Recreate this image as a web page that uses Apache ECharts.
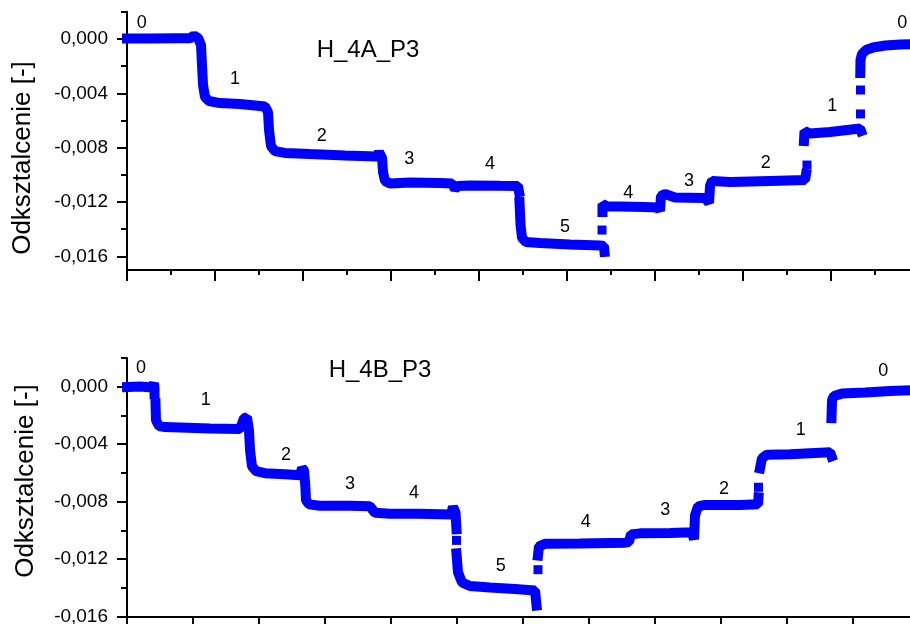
<!DOCTYPE html>
<html>
<head>
<meta charset="utf-8">
<script src="https://cdn.jsdelivr.net/npm/echarts@6/dist/echarts.min.js"></script>
<style>html,body{margin:0;padding:0;background:#fff}#c{width:910px;height:624px}</style>
</head>
<body>
<div id="c"></div>
<script>
// ---- data (x: time in arbitrary units = one major tick; y: strain) ----
const topCurve = [
  [0,0.00003],[0.261,0.00002],[0.545,0.00005],[0.716,0.00004],[0.761,0.00025],[0.807,0.00007],
  [0.841,-0.00045],[0.852,-0.00192],[0.864,-0.00339],[0.886,-0.00427],[0.932,-0.00457],[1.057,-0.00472],
  [1.284,-0.00479],[1.568,-0.00497],[1.602,-0.00538],[1.614,-0.00670],[1.636,-0.00788],[1.682,-0.00825],
  [1.795,-0.00839],[2.080,-0.00847],[2.477,-0.00858],[2.841,-0.00865],[2.864,-0.00832],[2.898,-0.00876],
  [2.909,-0.00979],[2.932,-0.01045],[2.989,-0.01064],[3.216,-0.01056],[3.557,-0.01060],[3.693,-0.01064],
  [3.727,-0.01104],[3.761,-0.01082],[3.898,-0.01078],[4.239,-0.01081],[4.443,-0.01082],[4.455,-0.01126],
  null,
  [4.460,-0.01200],[4.472,-0.01369],[4.489,-0.01465],[4.534,-0.01494],[4.693,-0.01502],[5.034,-0.01512],
  [5.375,-0.01520],[5.420,-0.01523],[5.426,-0.01567],
  null,
  [5.403,-0.01273],[5.403,-0.01214],[5.455,-0.01233],[5.602,-0.01233],[5.886,-0.01237],[6.034,-0.01240],
  [6.057,-0.01266],[6.068,-0.01156],[6.114,-0.01141],[6.227,-0.01167],[6.568,-0.01170],[6.614,-0.01207],
  [6.625,-0.01082],[6.648,-0.01045],[6.852,-0.01053],[7.307,-0.01045],[7.705,-0.01038],[7.716,-0.00994],
  null,
  [7.693,-0.00751],[7.699,-0.00677],[7.761,-0.00696],[7.989,-0.00685],[8.330,-0.00659],[8.341,-0.00678],
  null,
  [8.333,-0.00251],[8.335,-0.00155],[8.352,-0.00111],[8.398,-0.00082],[8.477,-0.00063],[8.614,-0.00049],
  [8.784,-0.00041],[8.955,-0.00038]
];
const topDots = [[5.398,-0.01406],[7.727,-0.00928],[8.335,-0.00552],[8.335,-0.00376]];
const topStepNames = ['0','1','2','3','4','5','4','3','2','1','0'];
const topStepPos = [[0.167,0.00119],[1.227,-0.00295],[2.213,-0.00714],[3.208,-0.00886],[4.125,-0.00922],
  [4.977,-0.01386],[5.697,-0.01131],[6.386,-0.01045],[7.258,-0.00915],[8.015,-0.00494],[8.810,0.00119]];

const botCurve = [
  [0,-0.00002],[0.197,0.00001],[0.379,-0.00006],[0.409,0.00026],[0.417,-0.00009],[0.417,-0.00051],
  null,
  [0.432,-0.00114],[0.439,-0.00233],[0.485,-0.00274],[0.576,-0.00281],[0.803,-0.00284],[1.258,-0.00291],
  [1.712,-0.00295],[1.773,-0.00219],[1.818,-0.00212],[1.848,-0.00302],[1.864,-0.00442],[1.894,-0.00554],
  [1.955,-0.00588],[2.091,-0.00602],[2.394,-0.00609],[2.621,-0.00616],[2.652,-0.00567],[2.682,-0.00581],
  [2.697,-0.00665],
  null,
  [2.705,-0.00721],[2.712,-0.00791],[2.758,-0.00819],[2.924,-0.00829],[3.379,-0.00829],[3.682,-0.00833],
  [3.758,-0.00878],[3.985,-0.00884],[4.439,-0.00885],[4.909,-0.00889],[4.939,-0.00836],[4.977,-0.00875],
  [4.992,-0.00993],
  null,
  [4.992,-0.01161],[5.015,-0.01293],[5.076,-0.01363],[5.197,-0.01388],[5.500,-0.01398],[5.879,-0.01408],
  [6.182,-0.01419],[6.205,-0.01524],
  null,
  [6.227,-0.01175],[6.242,-0.01112],[6.333,-0.01094],[6.864,-0.01091],[7.545,-0.01086],[7.606,-0.01080],
  [7.636,-0.01028],[7.773,-0.01021],[8.227,-0.01018],[8.561,-0.01014],[8.591,-0.01063],[8.606,-0.00896],
  [8.652,-0.00833],[8.758,-0.00823],[9.288,-0.00823],[9.561,-0.00819],[9.568,-0.00770],
  null,
  [9.591,-0.00568],[9.621,-0.00498],[9.697,-0.00473],[10.045,-0.00470],[10.348,-0.00463],[10.652,-0.00456],
  [10.674,-0.00484],
  null,
  [10.674,-0.00219],[10.682,-0.00093],[10.712,-0.00065],[10.833,-0.00048],[11.182,-0.00041],
  [11.561,-0.00030],[11.939,-0.00023]
];
const botDots = [[4.992,-0.01070],[6.227,-0.01274],[9.568,-0.00700]];
const botStepNames = ['0','1','2','3','4','5','4','3','2','1','0'];
const botStepPos = [[0.212,0.00128],[1.192,-0.00093],[2.409,-0.00477],[3.379,-0.00679],[4.348,-0.00740],
  [5.662,-0.01251],[6.950,-0.00942],[8.156,-0.00861],[9.045,-0.00714],[10.208,-0.00302],[11.459,0.00109]];

const majorYTicks = [0, -0.004, -0.008, -0.012, -0.016];
const minorYTicksTop = [0.002, -0.002, -0.006, -0.010, -0.014];
const minorYTicksBot = [0.002, -0.002, -0.006, -0.010, -0.014];
const panelTitles = ['H_4A_P3', 'H_4B_P3'];
const yName = 'Odksztalcenie [-]';

// ---- chart ----
const FONT = '"Liberation Sans", Arial, sans-serif';
const BLUE = '#0000ff';
const fmt = v => v.toFixed(3).replace('.', ',');
const toLine = arr => arr.map(p => p === null ? ['-', '-'] : p);

function yAxes(grid, min, max, minor) {
  return [{
    type: 'value', gridIndex: grid, min: min, max: max, position: 'left',
    axisLine: { show: true, onZero: false, lineStyle: { color: '#000', width: 2 } },
    axisTick: { show: true, customValues: majorYTicks, length: 10, lineStyle: { color: '#000', width: 2 } },
    axisLabel: { show: true, customValues: majorYTicks, formatter: fmt, margin: 19, fontSize: 19, color: '#000', fontFamily: FONT },
    splitLine: { show: false }
  }, {
    type: 'value', gridIndex: grid, min: min, max: max, position: 'left',
    axisLine: { show: false },
    axisTick: { show: true, customValues: minor, length: 6, lineStyle: { color: '#000', width: 2 } },
    axisLabel: { show: false },
    splitLine: { show: false }
  }];
}
function xAxis(grid, max, minorSplit) {
  return {
    type: 'value', gridIndex: grid, min: 0, max: max, interval: 1,
    axisLine: { show: true, onZero: false, lineStyle: { color: '#000', width: 2 } },
    axisTick: { show: true, length: 11, lineStyle: { color: '#000', width: 2 } },
    minorTick: { show: minorSplit > 0, splitNumber: minorSplit || 5, length: 5, lineStyle: { color: '#000', width: 2 } },
    axisLabel: { show: false },
    splitLine: { show: false }, minorSplitLine: { show: false }
  };
}
function lineSeries(x, y, data) {
  return { type: 'line', xAxisIndex: x, yAxisIndex: y, data: toLine(data), showSymbol: false, symbol: 'none',
    connectNulls: false, clip: false, silent: true,
    lineStyle: { color: BLUE, width: 10, cap: 'square', join: 'bevel', opacity: 1 } };
}
function dotSeries(x, y, data) {
  return { type: 'scatter', xAxisIndex: x, yAxisIndex: y, data: data, symbol: 'rect', symbolSize: [9, 9],
    itemStyle: { color: BLUE, opacity: 1 }, silent: true };
}
function labelSeries(x, y, pos, names) {
  return { type: 'scatter', xAxisIndex: x, yAxisIndex: y, symbolSize: 0, silent: true,
    itemStyle: { color: '#000' },
    data: pos.map((p, i) => ({ value: p, name: names[i] })),
    label: { show: true, position: 'inside', formatter: '{b}', fontSize: 18, color: '#000',
      textBorderWidth: 0, opacity: 1, fontFamily: FONT } };
}

const chart = echarts.init(document.getElementById('c'), null, { renderer: 'canvas' });
chart.setOption({
  animation: false,
  backgroundColor: '#fff',
  grid: [
    { left: 127, top: 11.7, width: 880, height: 258.3, containLabel: false, outerBoundsMode: 'none' },
    { left: 127, top: 358, width: 792, height: 258.5, containLabel: false, outerBoundsMode: 'none' }
  ],
  xAxis: [xAxis(0, 10, 2), xAxis(1, 12, 0)],
  yAxis: [].concat(yAxes(0, -0.017, 0.002, minorYTicksTop), yAxes(1, -0.016, 0.002, minorYTicksBot)),
  series: [
    lineSeries(0, 0, topCurve), dotSeries(0, 0, topDots), labelSeries(0, 0, topStepPos, topStepNames),
    lineSeries(1, 2, botCurve), dotSeries(1, 2, botDots), labelSeries(1, 2, botStepPos, botStepNames)
  ],
  graphic: [
    { type: 'text', x: 23, y: 158, rotation: Math.PI / 2,
      style: { text: yName, fontSize: 26, fontFamily: FONT, fill: '#000', align: 'center', verticalAlign: 'middle', textAlign: 'center', textVerticalAlign: 'middle' } },
    { type: 'text', x: 26, y: 481, rotation: Math.PI / 2,
      style: { text: yName, fontSize: 26, fontFamily: FONT, fill: '#000', align: 'center', verticalAlign: 'middle', textAlign: 'center', textVerticalAlign: 'middle' } },
    { type: 'text', x: 368, y: 50,
      style: { text: panelTitles[0], fontSize: 24, fontFamily: FONT, fill: '#000', align: 'center', verticalAlign: 'middle', textAlign: 'center', textVerticalAlign: 'middle' } },
    { type: 'text', x: 380, y: 370,
      style: { text: panelTitles[1], fontSize: 24, fontFamily: FONT, fill: '#000', align: 'center', verticalAlign: 'middle', textAlign: 'center', textVerticalAlign: 'middle' } }
  ]
});
</script>
</body>
</html>
